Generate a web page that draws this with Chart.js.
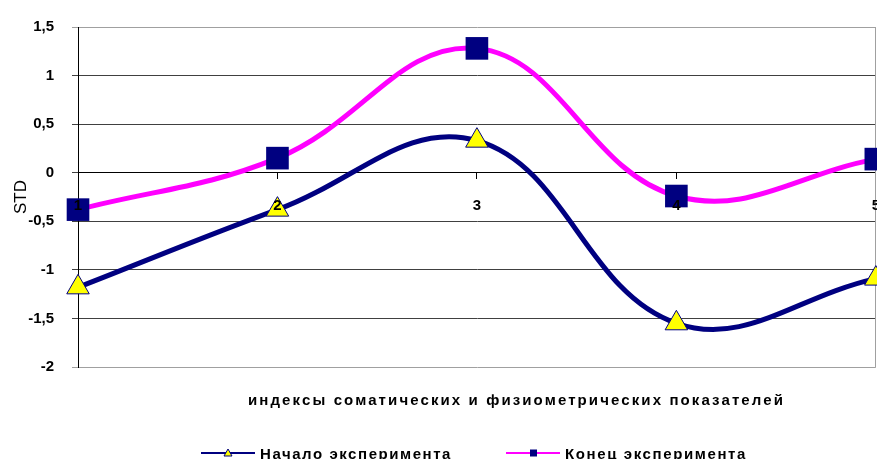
<!DOCTYPE html>
<html>
<head>
<meta charset="utf-8">
<script src="https://cdn.jsdelivr.net/npm/chart.js@4"></script>
<style>
  html, body { margin: 0; padding: 0; background: #fff; overflow: hidden; }
  #wrap { position: relative; width: 877px; height: 459px; overflow: hidden; }
  #stdChart { position: absolute; left: 0; top: 0; }
  #xTitle {
    position: absolute; left: 248px; top: 392px;
    font: bold 15px "Liberation Sans", Arial, sans-serif; line-height: 15px;
    white-space: nowrap; color: #000;
  }
  .legend-item {
    position: absolute; top: 446px; height: 15px;
    font: bold 15px "Liberation Sans", Arial, sans-serif; line-height: 15px;
    white-space: nowrap; color: #000;
  }
  .legend-item svg { position: absolute; left: 0; top: 0; }
  .legend-item span { position: absolute; top: 0; }
</style>
</head>
<body>
<div id="wrap">
  <canvas id="stdChart" width="898" height="459"></canvas>
  <div id="xTitle">индексы соматических и физиометрических показателей</div>
  <div class="legend-item" style="left:201px">
    <svg width="54" height="14">
      <line x1="0" y1="7" x2="54" y2="7" stroke="#000080" stroke-width="2"/>
      <polygon points="27,3 31,10 23,10" fill="#ffff00" stroke="#000080" stroke-width="1"/>
    </svg>
    <span id="legStart" style="left:59px"></span>
  </div>
  <div class="legend-item" style="left:506px">
    <svg width="54" height="14">
      <line x1="0" y1="7" x2="54" y2="7" stroke="#ff00ff" stroke-width="2"/>
      <rect x="24" y="3.5" width="7" height="7" fill="#000080"/>
    </svg>
    <span id="legEnd" style="left:59px"></span>
  </div>
</div>
<script>
const CATEGORIES = ["1", "2", "3", "4", "5"];
const START_VALUES = [-1.18, -0.38, 0.33, -1.55, -1.09];
const END_VALUES = [-0.38, 0.15, 1.28, -0.24, 0.14];
const Y_TICKS = [-2, -1.5, -1, -0.5, 0, 0.5, 1, 1.5];

const START_LABEL = "Начало эксперимента";
const END_LABEL = "Конец эксперимента";

const FONT = "'Liberation Sans', Arial, sans-serif";

// spread letters so a text block gets the width it has in the picture
function fitWidth(el, target) {
  el.style.letterSpacing = "0px";
  const w = el.getBoundingClientRect().width;
  const n = el.textContent.length;
  el.style.letterSpacing = ((target - w) / n) + "px";
}

// right edge of the plot area, light grey like the top/bottom lines
const plotBorder = {
  id: "plotBorder",
  beforeDatasetsDraw(chart) {
    const { ctx, chartArea } = chart;
    ctx.save();
    ctx.strokeStyle = "#a0a0a0";
    ctx.lineWidth = 1;
    ctx.beginPath();
    ctx.moveTo(Math.round(chartArea.right) - 0.5, chartArea.top);
    ctx.lineTo(Math.round(chartArea.right) - 0.5, chartArea.bottom);
    ctx.stroke();
    ctx.restore();
  }
};

function gridColor(c) {
  const v = c.tick && c.tick.value;
  if (v === 1.5 || v === -2) return "#a0a0a0";
  return "#404040";
}

document.getElementById("legStart").textContent = START_LABEL;
document.getElementById("legEnd").textContent = END_LABEL;
fitWidth(document.getElementById("xTitle"), 537);
fitWidth(document.getElementById("legStart"), 192);
fitWidth(document.getElementById("legEnd"), 182);

const ctx = document.getElementById("stdChart").getContext("2d");

new Chart(ctx, {
  type: "line",
  data: {
    labels: CATEGORIES,
    datasets: [
      {
        label: START_LABEL,
        data: START_VALUES,
        borderColor: "#000080",
        borderWidth: 5,
        tension: 0.4,
        pointStyle: "triangle",
        pointRadius: 13,
        pointBackgroundColor: "#ffff00",
        pointBorderColor: "#000080",
        pointBorderWidth: 1,
        clip: false
      },
      {
        label: END_LABEL,
        data: END_VALUES,
        borderColor: "#ff00ff",
        borderWidth: 5,
        tension: 0.4,
        pointStyle: "rect",
        pointRadius: 16,
        pointBackgroundColor: "#000080",
        pointBorderColor: "#000080",
        pointBorderWidth: 0,
        clip: false
      }
    ]
  },
  options: {
    responsive: false,
    animation: false,
    events: [],
    layout: { padding: { left: 0, right: 10, top: 24, bottom: 92 } },
    plugins: {
      legend: { display: false },
      tooltip: { enabled: false }
    },
    scales: {
      x: {
        type: "category",
        position: { y: 0 },
        offset: false,
        grid: { drawOnChartArea: false, drawTicks: true, tickLength: 6, color: "#000" },
        border: { color: "#000", width: 1 },
        ticks: {
          z: 1, // category numbers sit on top of the markers
          color: "#000",
          font: { family: FONT, size: 15, weight: "bold" },
          padding: 18,
          maxRotation: 0,
          autoSkip: false
        }
      },
      y: {
        min: -2,
        max: 1.5,
        afterBuildTicks: scale => {
          scale.ticks = Y_TICKS.map(v => ({ value: v }));
        },
        afterFit: scale => {
          scale.width = 78;
        },
        grid: { color: gridColor, lineWidth: 1, drawTicks: true, tickLength: 6 },
        border: { color: "#000", width: 1 },
        ticks: {
          color: "#000",
          font: { family: FONT, size: 15, weight: "bold" },
          padding: 18,
          callback: v => String(v).replace(".", ",")
        },
        title: {
          display: true,
          text: "STD",
          color: "#000",
          font: { family: FONT, size: 17 },
          padding: { top: 11, bottom: 0 }
        }
      }
    }
  },
  plugins: [plotBorder]
});
</script>
</body>
</html>
